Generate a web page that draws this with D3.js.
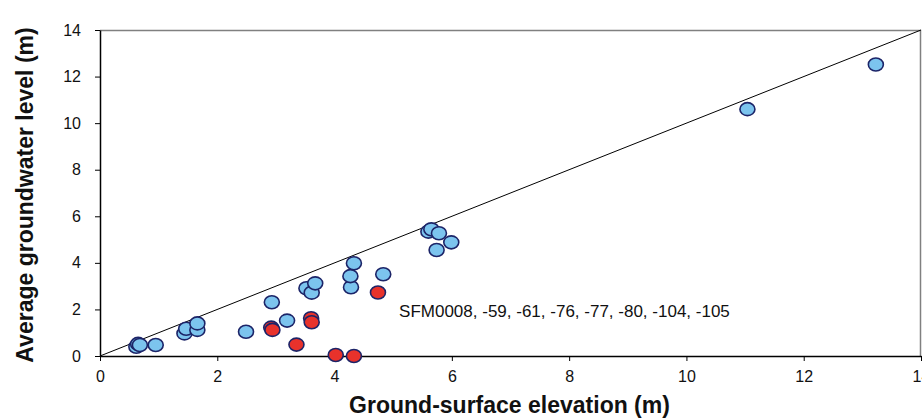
<!DOCTYPE html>
<html>
<head>
<meta charset="utf-8">
<script src="https://d3js.org/d3.v7.min.js"></script>
<style>
  body { margin: 0; background: #fff; }
  text { font-family: "Liberation Sans", Arial, sans-serif; fill: #111; }
  .axis path, .axis line { stroke: #000; }
  .axis text { font-size: 16px; }
  .title { font-size: 23px; font-weight: bold; }
</style>
</head>
<body>
<div id="chart"></div>
<script>
// ground-surface elevation (x) and average groundwater level (y), in m
var blueX = [0.62, 0.65, 0.68, 0.95, 1.44, 1.47, 1.66, 1.66, 2.49, 2.93, 3.19, 3.52, 3.61, 3.67,
             4.28, 4.27, 4.33, 4.83, 5.60, 5.65, 5.78, 5.74, 5.99, 11.04, 13.23];
var blueY = [0.40, 0.52, 0.47, 0.47, 0.97, 1.17, 1.12, 1.40, 1.04, 2.31, 1.52, 2.91, 2.72, 3.12,
             2.95, 3.43, 3.98, 3.51, 5.34, 5.44, 5.27, 4.55, 4.88, 10.60, 12.52];
var redX = [2.92, 2.94, 3.35, 3.60, 3.61, 4.02, 4.33, 4.74];
var redY = [1.22, 1.12, 0.49, 1.62, 1.45, 0.04, 0.00, 2.73];
var xTicks = [0, 2, 4, 6, 8, 10, 12, 14];
var yTicks = [0, 2, 4, 6, 8, 10, 12, 14];
var redLabel = "SFM0008, -59, -61, -76, -77, -80, -104, -105";

var W = 922, H = 419;
var margin = {top: 30, right: 1, bottom: 63, left: 100};
var width = W - margin.left - margin.right,
    height = H - margin.top - margin.bottom;

var svg = d3.select("#chart").append("svg").attr("width", W).attr("height", H);
var g = svg.append("g").attr("transform", "translate(" + margin.left + "," + margin.top + ")");

var x = d3.scaleLinear().domain([0, 14]).range([0, width]);
var y = d3.scaleLinear().domain([0, 14]).range([height, 0]);

// plot frame (top and right grey)
g.append("path")
  .attr("d", "M0,0.5H" + (width - 0.5) + "V" + height)
  .attr("fill", "none").attr("stroke", "#808080").attr("stroke-width", 1.5);

g.append("g").attr("class", "axis")
  .attr("transform", "translate(0," + height + ")")
  .call(d3.axisBottom(x).tickValues(xTicks).tickSize(5).tickSizeOuter(0).tickPadding(10));

g.append("g").attr("class", "axis")
  .call(d3.axisLeft(y).tickValues(yTicks).tickSize(5).tickSizeOuter(0).tickPadding(14));

g.selectAll(".axis path").attr("stroke-width", 1.5);

// 1:1 line
g.append("line")
  .attr("x1", x(0)).attr("y1", y(0)).attr("x2", x(14)).attr("y2", y(14))
  .attr("stroke", "#000").attr("stroke-width", 1);

function dots(xs, ys, fill) {
  g.selectAll(null).data(xs).enter().append("ellipse")
    .attr("cx", function(d) { return x(d); })
    .attr("cy", function(d, i) { return y(ys[i]); })
    .attr("rx", 7.5).attr("ry", 6.5)
    .attr("fill", fill)
    .attr("stroke", "#1c2468").attr("stroke-width", 1.6);
}
dots(blueX, blueY, "#7cc4ee");
dots(redX, redY, "#e8322b");

g.append("text")
  .attr("x", x(5.1)).attr("y", y(1.66))
  .attr("font-size", "17px")
  .text(redLabel);

svg.append("text").attr("class", "title")
  .attr("text-anchor", "middle")
  .attr("x", margin.left + width / 2 - 1).attr("y", 413)
  .text("Ground-surface elevation (m)");

svg.append("text").attr("class", "title")
  .attr("text-anchor", "middle")
  .attr("transform", "translate(33," + (margin.top + height / 2 + 2) + ") rotate(-90)")
  .text("Average groundwater level (m)");
</script>
</body>
</html>
